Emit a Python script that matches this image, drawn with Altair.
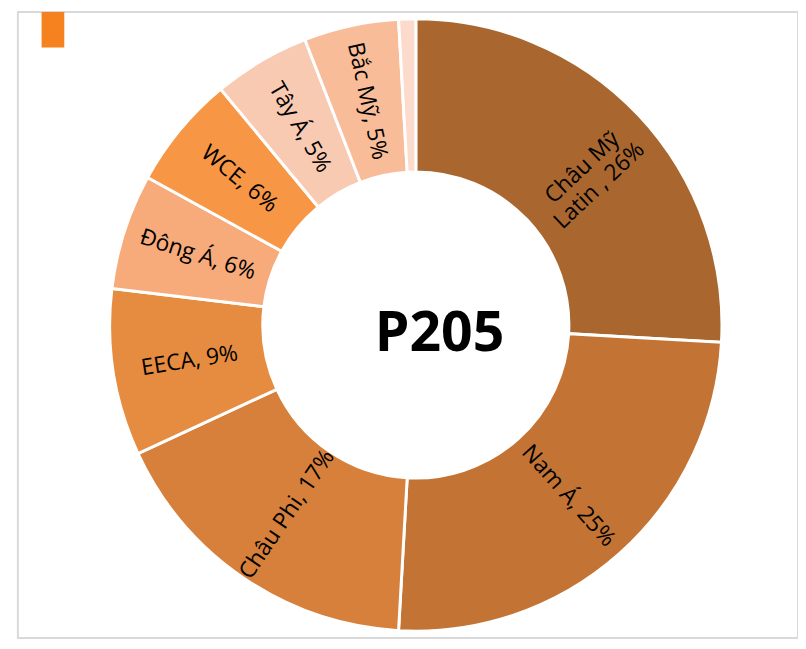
import altair as alt
import pandas as pd

regions = ["Châu Mỹ\nLatin ", "Nam Á", "Châu Phi", "EECA", "Đông Á", "WCE", "Tây Á", "Bắc Mỹ", "Khác"]
shares = [25.9, 25.0, 17.2, 8.8, 6.1, 6.0, 5.1, 5.0, 0.9]
show_label = [True, True, True, True, True, True, True, True, False]
colors = ["#A9672F", "#C37434", "#D6803B", "#E68C40", "#F7AA7A", "#F79746", "#F9CAB2", "#F9BC98", "#FCDACC"]
center_title = "P205"

total = sum(shares)
rows = []
cum = 0.0
for i, (r, v, s) in enumerate(zip(regions, shares, show_label)):
    mid = (cum + v / 2) / total * 360
    cum += v
    rot = mid - 90 if mid < 180 else mid - 270
    rows.append({
        "idx": i,
        "region": r,
        "share": v,
        "label": f"{r}, {round(v)}%" if s else "",
        "rot": rot,
    })
df = pd.DataFrame(rows)

CX, CY = 403, 317

base = alt.Chart(df).encode(
    theta=alt.Theta("share:Q", stack=True),
    order=alt.Order("idx:O"),
)

arcs = base.mark_arc(outerRadius=310, innerRadius=155, stroke="white", strokeWidth=3).encode(
    color=alt.Color("region:N", scale=alt.Scale(domain=regions, range=colors), legend=None),
    x=alt.value(CX),
    y=alt.value(CY),
)

labels = base.mark_text(
    radius=232, font="Open Sans", fontSize=23, color="black", lineBreak="\n",
    align="center", baseline="middle",
).encode(
    text="label:N",
    angle=alt.Angle("rot:Q", scale=None),
    x=alt.value(CX),
    y=alt.value(CY),
)

center = alt.Chart(pd.DataFrame({"t": [center_title]})).mark_text(
    font="Open Sans", fontSize=56, fontWeight="bold", color="black",
    align="center", baseline="middle",
).encode(text="t:N", x=alt.value(CX + 24), y=alt.value(CY + 9))

legend_box = alt.Chart(pd.DataFrame({"k": [0]})).mark_rect(color="#F5821F").encode(
    x=alt.value(24), x2=alt.value(47), y=alt.value(0), y2=alt.value(36)
)

chart = alt.layer(arcs, labels, center, legend_box).properties(
    width=790, height=634,
    padding={"left": 10, "top": 0, "right": 0, "bottom": 0},
    autosize="none",
).configure_view(stroke="#D9D9D9", strokeWidth=2)

chart.save("out.html", embed_options={"renderer": "svg", "actions": False})
